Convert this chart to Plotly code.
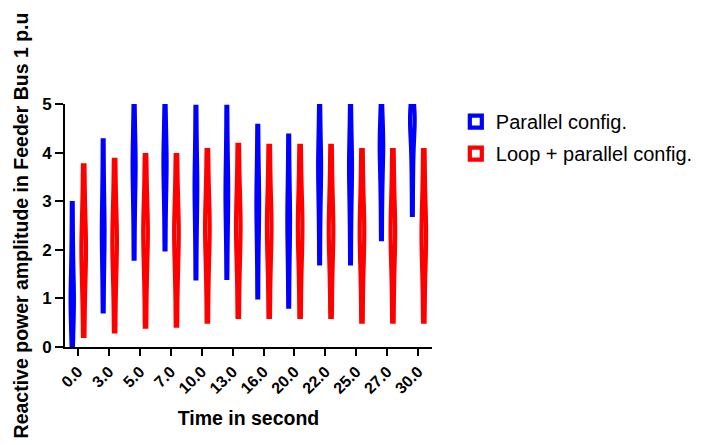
import plotly.graph_objects as go

times = ["0.0", "3.0", "5.0", "7.0", "10.0", "13.0", "16.0", "20.0", "22.0", "25.0", "27.0", "30.0"]

# Hand-read sample values per time point (min, spread around the widest point, max)
parallel_samples = [
    [0.00, 0.37, 0.63, 0.82, 0.97, 1.10, 1.32, 1.57, 1.89, 2.34, 2.96],
    [0.73, 1.29, 1.69, 1.97, 2.20, 2.40, 2.62, 2.87, 3.18, 3.63, 4.25],
    [1.82, 2.43, 2.88, 3.18, 3.43, 3.65, 3.81, 3.99, 4.21, 4.54, 4.98],
    [2.01, 2.57, 2.99, 3.27, 3.50, 3.70, 3.85, 4.03, 4.24, 4.55, 4.98],
    [1.41, 2.02, 2.47, 2.78, 3.03, 3.25, 3.45, 3.68, 3.96, 4.38, 4.94],
    [1.42, 2.00, 2.42, 2.71, 2.95, 3.15, 3.36, 3.61, 3.91, 4.34, 4.94],
    [1.02, 1.65, 2.10, 2.42, 2.68, 2.90, 3.09, 3.32, 3.60, 4.00, 4.55],
    [0.83, 1.42, 1.85, 2.15, 2.39, 2.60, 2.81, 3.05, 3.34, 3.77, 4.35],
    [1.72, 2.35, 2.80, 3.12, 3.38, 3.60, 3.76, 3.95, 4.18, 4.52, 4.98],
    [1.72, 2.35, 2.80, 3.12, 3.38, 3.60, 3.76, 3.95, 4.18, 4.52, 4.98],
    [2.22, 2.81, 3.25, 3.55, 3.79, 4.00, 4.12, 4.25, 4.41, 4.65, 4.98],
    [2.72, 3.35, 3.80, 4.12, 4.38, 4.60, 4.64, 4.70, 4.76, 4.85, 4.98],
]
loop_samples = [
    [0.23, 0.82, 1.25, 1.55, 1.79, 2.00, 2.21, 2.44, 2.74, 3.16, 3.74],
    [0.32, 0.93, 1.38, 1.68, 1.93, 2.15, 2.35, 2.58, 2.87, 3.28, 3.85],
    [0.42, 1.05, 1.50, 1.82, 2.08, 2.30, 2.49, 2.72, 3.00, 3.40, 3.95],
    [0.44, 1.06, 1.51, 1.83, 2.08, 2.30, 2.49, 2.72, 3.00, 3.40, 3.95],
    [0.52, 1.15, 1.60, 1.92, 2.18, 2.40, 2.59, 2.82, 3.10, 3.50, 4.05],
    [0.62, 1.23, 1.68, 1.98, 2.23, 2.45, 2.65, 2.89, 3.17, 3.59, 4.16],
    [0.62, 1.23, 1.68, 1.98, 2.23, 2.45, 2.65, 2.88, 3.16, 3.58, 4.14],
    [0.62, 1.23, 1.68, 1.98, 2.23, 2.45, 2.65, 2.88, 3.16, 3.58, 4.14],
    [0.62, 1.21, 1.65, 1.95, 2.19, 2.40, 2.61, 2.84, 3.14, 3.56, 4.14],
    [0.52, 1.13, 1.58, 1.88, 2.13, 2.35, 2.55, 2.78, 3.07, 3.48, 4.05],
    [0.52, 1.13, 1.58, 1.88, 2.13, 2.35, 2.55, 2.78, 3.07, 3.48, 4.05],
    [0.52, 1.11, 1.55, 1.85, 2.09, 2.30, 2.51, 2.75, 3.04, 3.47, 4.05],
]

series = [
    ("Parallel config.", parallel_samples, "#0000FF", "a"),
    ("Loop + parallel config.", loop_samples, "#FF0000", "b"),
]

FONT = "Liberation Sans, Arial, sans-serif"

fig = go.Figure()
for name, samples, color, grp in series:
    xs, ys = [], []
    for t, vals in zip(times, samples):
        xs.extend([t] * len(vals))
        ys.extend(vals)
    fig.add_trace(go.Violin(
        x=xs, y=ys, name=name, legendgroup=grp,
        line=dict(color=color, width=4.2),
        fillcolor="white",
        points=False, spanmode="hard", bandwidth=0.35,
        scalemode="width", hoveron="violins",
    ))

fig.update_layout(
    width=701, height=437,
    margin=dict(l=57, r=276, t=96, b=98),
    paper_bgcolor="white", plot_bgcolor="white",
    violinmode="group", violingap=0.26, violingroupgap=0.6,
    font=dict(family=FONT, color="black"),
    showlegend=True,
    legend=dict(
        x=1.062, y=1.008, xanchor="left", yanchor="top",
        font=dict(family=FONT, size=20, color="black"),
        tracegroupgap=3, traceorder="grouped",
        bgcolor="rgba(0,0,0,0)",
    ),
    xaxis=dict(
        type="category", categoryorder="array", categoryarray=times,
        range=[-0.42, 11.45], automargin=False,
        showline=True, linecolor="black", linewidth=2,
        ticks="outside", ticklen=7, tickwidth=2, tickcolor="black",
        tickangle=-45, showgrid=False, zeroline=False,
        tickfont=dict(family=FONT, size=16, weight="bold", color="black"),
        title=dict(text="Time in second",
                   font=dict(family=FONT, size=19.5, weight="bold", color="black"),
                   standoff=15),
    ),
    yaxis=dict(
        range=[0, 5], tickvals=[0, 1, 2, 3, 4, 5], automargin=False,
        showline=True, linecolor="black", linewidth=2,
        ticks="outside", ticklen=8, tickwidth=2, tickcolor="black",
        showgrid=False, zeroline=False,
        tickfont=dict(family=FONT, size=17, weight="bold", color="black"),
        title=dict(text="Reactive power amplitude in Feeder Bus 1 p.u",
                   font=dict(family=FONT, size=19.5, weight="bold", color="black"),
                   standoff=8),
    ),
)

fig.write_html("out.html")
